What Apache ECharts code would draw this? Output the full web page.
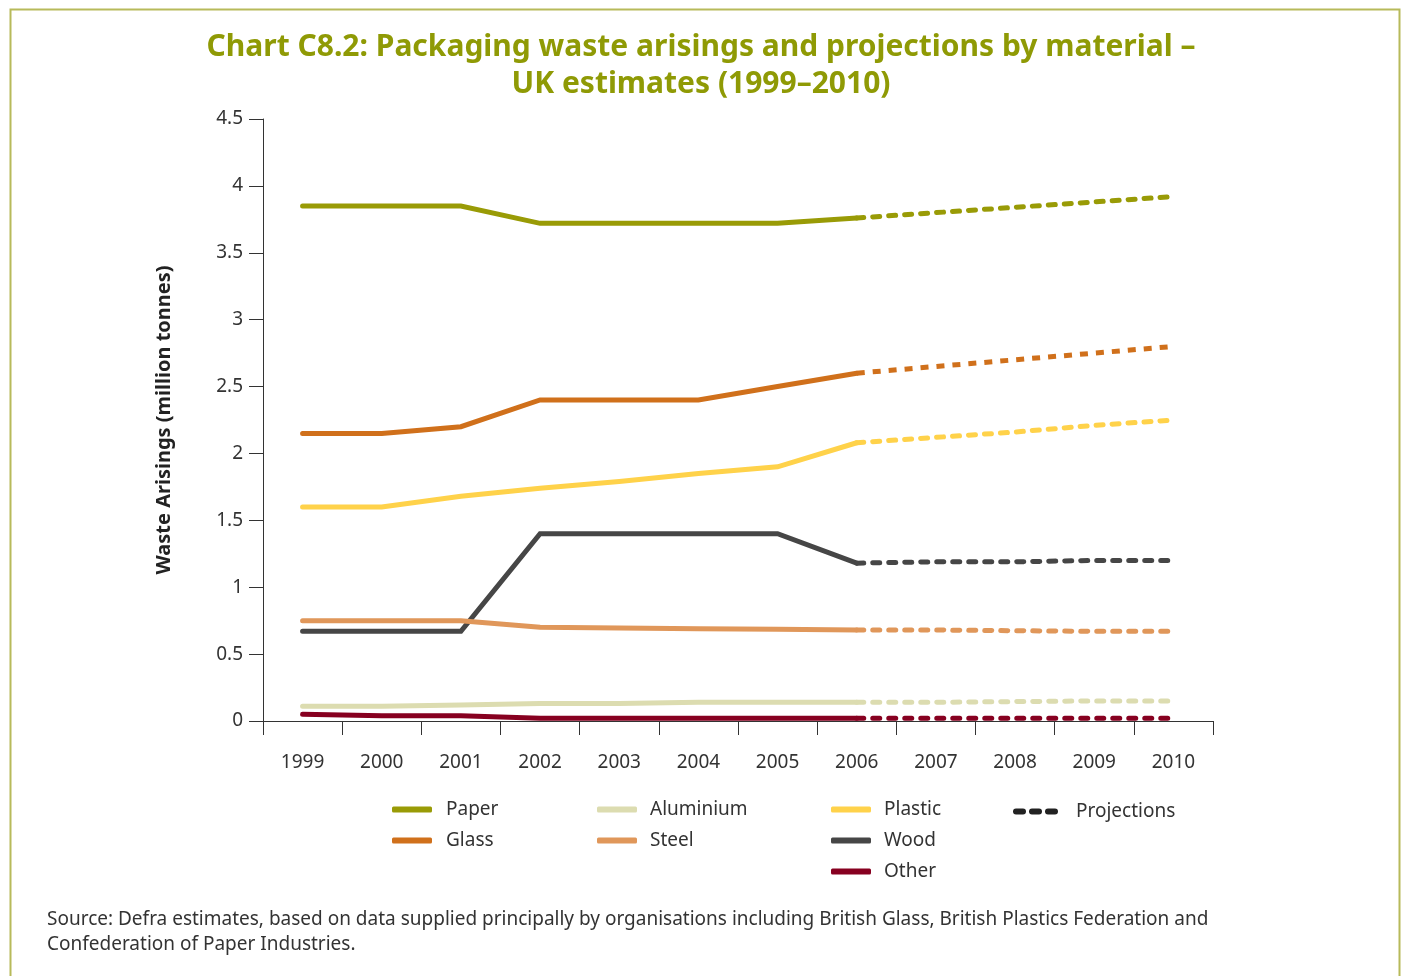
<!DOCTYPE html>
<html>
<head>
<meta charset="utf-8">
<script src="https://cdn.jsdelivr.net/npm/echarts@6/dist/echarts.min.js"></script>
<style>
html,body{margin:0;padding:0;background:#fff;}
#chart{width:1402px;height:976px;}
</style>
</head>
<body>
<div id="chart"></div>
<script>
const years = ['1999','2000','2001','2002','2003','2004','2005','2006','2007','2008','2009','2010'];
const yTicks = [0,0.5,1,1.5,2,2.5,3,3.5,4,4.5];
// actual 1999-2006
const paper     = [3.85,3.85,3.85,3.72,3.72,3.72,3.72,3.76];
const glass     = [2.15,2.15,2.20,2.40,2.40,2.40,2.50,2.60];
const plastic   = [1.60,1.60,1.68,1.74,1.79,1.85,1.90,2.08];
const wood      = [0.67,0.67,0.67,1.40,1.40,1.40,1.40,1.18];
const steel     = [0.75,0.75,0.75,0.70,0.695,0.69,0.685,0.68];
const aluminium = [0.11,0.11,0.12,0.13,0.13,0.14,0.14,0.14];
const other     = [0.05,0.04,0.04,0.02,0.02,0.02,0.02,0.02];
// projections 2006-2010
const paperProj     = [3.76,3.80,3.84,3.88,3.92];
const glassProj     = [2.60,2.65,2.70,2.75,2.80];
const plasticProj   = [2.08,2.12,2.16,2.21,2.25];
const woodProj      = [1.18,1.19,1.19,1.20,1.20];
const steelProj     = [0.68,0.68,0.675,0.67,0.67];
const aluminiumProj = [0.14,0.14,0.145,0.15,0.15];
const otherProj     = [0.02,0.02,0.02,0.02,0.02];

const FONT = '"Noto Sans", "Open Sans", sans-serif';
const materials = [
  {name:'Paper', color:'#999b06', act:paper, proj:paperProj, cap:'round', dash:[7,9]},
  {name:'Glass', color:'#d0701b', act:glass, proj:glassProj, cap:'butt', dash:[8,8]},
  {name:'Plastic', color:'#ffd24a', act:plastic, proj:plasticProj, cap:'round', dash:[7,9]},
  {name:'Wood', color:'#464646', act:wood, proj:woodProj, cap:'round', dash:[7,9]},
  {name:'Steel', color:'#e0975a', act:steel, proj:steelProj, cap:'round', dash:[7,9]},
  {name:'Aluminium', color:'#dcdcb0', act:aluminium, proj:aluminiumProj, cap:'round', dash:[7,9]},
  {name:'Other', color:'#870020', act:other, proj:otherProj, cap:'round', dash:[7,9]}
];
const series = [];
materials.forEach(m => {
  series.push({
    name:m.name, type:'line', symbol:'none', silent:true, z:3,
    data: m.act,
    lineStyle:{color:m.color, width:5, cap:'round', join:'miter'},
    itemStyle:{color:m.color}
  });
  series.push({
    name:m.name+' projection', type:'line', symbol:'none', silent:true, z:3,
    data: [null,null,null,null,null,null,null].concat(m.proj),
    lineStyle:{color:m.color, width:5, type:m.dash, cap:m.cap},
    itemStyle:{color:m.color}
  });
});
series.push({
  name:'Projections', type:'line', symbol:'none', data:[],
  lineStyle:{color:'#222', width:5, type:[7,9], cap:'round'},
  itemStyle:{color:'#222'}
});

const dashIcon = 'path://M3,0h7a3,3 0 0 1 0,6h-7a3,3 0 0 1 0,-6z M19,0h7a3,3 0 0 1 0,6h-7a3,3 0 0 1 0,-6z M35,0h7a3,3 0 0 1 0,6h-7a3,3 0 0 1 0,-6z';
function lg(names,left,top,w,icon,pad){
  return {data:names.map(n=>({name:n, icon:icon||'roundRect'})), orient:'vertical', left:left, top:top,
    itemWidth:w||40, itemHeight:6, itemGap:12,
    textStyle:{fontFamily:FONT, fontSize:19, color:'#333', padding:[0,0,0,pad||9]}, selectedMode:false};
}

const chart = echarts.init(document.getElementById('chart'));
chart.setOption({
  animation:false,
  backgroundColor:'#fff',
  title:{
    text:'Chart C8.2: Packaging waste arisings and projections by material –\nUK estimates (1999–2010)',
    left:'center', top:24,
    textStyle:{fontFamily:FONT, fontSize:30, fontWeight:'bold', color:'#8f9a05', lineHeight:37}
  },
  grid:{left:263, right:189, top:119, bottom:255},
  xAxis:{
    type:'category', data:years, boundaryGap:true,
    axisLine:{lineStyle:{color:'#333', width:1}},
    axisTick:{show:true, length:14, alignWithLabel:false, lineStyle:{color:'#333'}},
    axisLabel:{fontFamily:FONT, fontSize:19, color:'#333', margin:32}
  },
  yAxis:{
    type:'value', min:0, max:4.5, interval:0.5,
    name:'Waste Arisings (million tonnes)', nameLocation:'middle', nameGap:89, nameRotate:90,
    nameTextStyle:{fontFamily:FONT, fontSize:20, fontWeight:'bold', color:'#222'},
    axisLine:{show:true, lineStyle:{color:'#333', width:1}},
    axisTick:{show:true, length:14, lineStyle:{color:'#333'}},
    splitLine:{show:false},
    axisLabel:{fontFamily:FONT, fontSize:19, color:'#333', margin:20,
      formatter:function(v){ return String(v); }}
  },
  legend:[
    lg(['Paper','Glass'],387,795),
    lg(['Aluminium','Steel'],592,795,40,null,8),
    lg(['Plastic','Wood','Other'],826,795,40,null,8),
    lg(['Projections'],1008,797,45,dashIcon,13)
  ],
  graphic:[
    {type:'rect', shape:{x:10.5, y:9.5, width:1389, height:1000}, style:{fill:null, stroke:'#b7ba5a', lineWidth:2}, silent:true},
    {type:'text', left:47, top:907, style:{text:'Source: Defra estimates, based on data supplied principally by organisations including British Glass, British Plastics Federation and\nConfederation of Paper Industries.', fontFamily:FONT, fontSize:19, lineHeight:25, fill:'#333'}}
  ],
  series:series
});
</script>
</body>
</html>
